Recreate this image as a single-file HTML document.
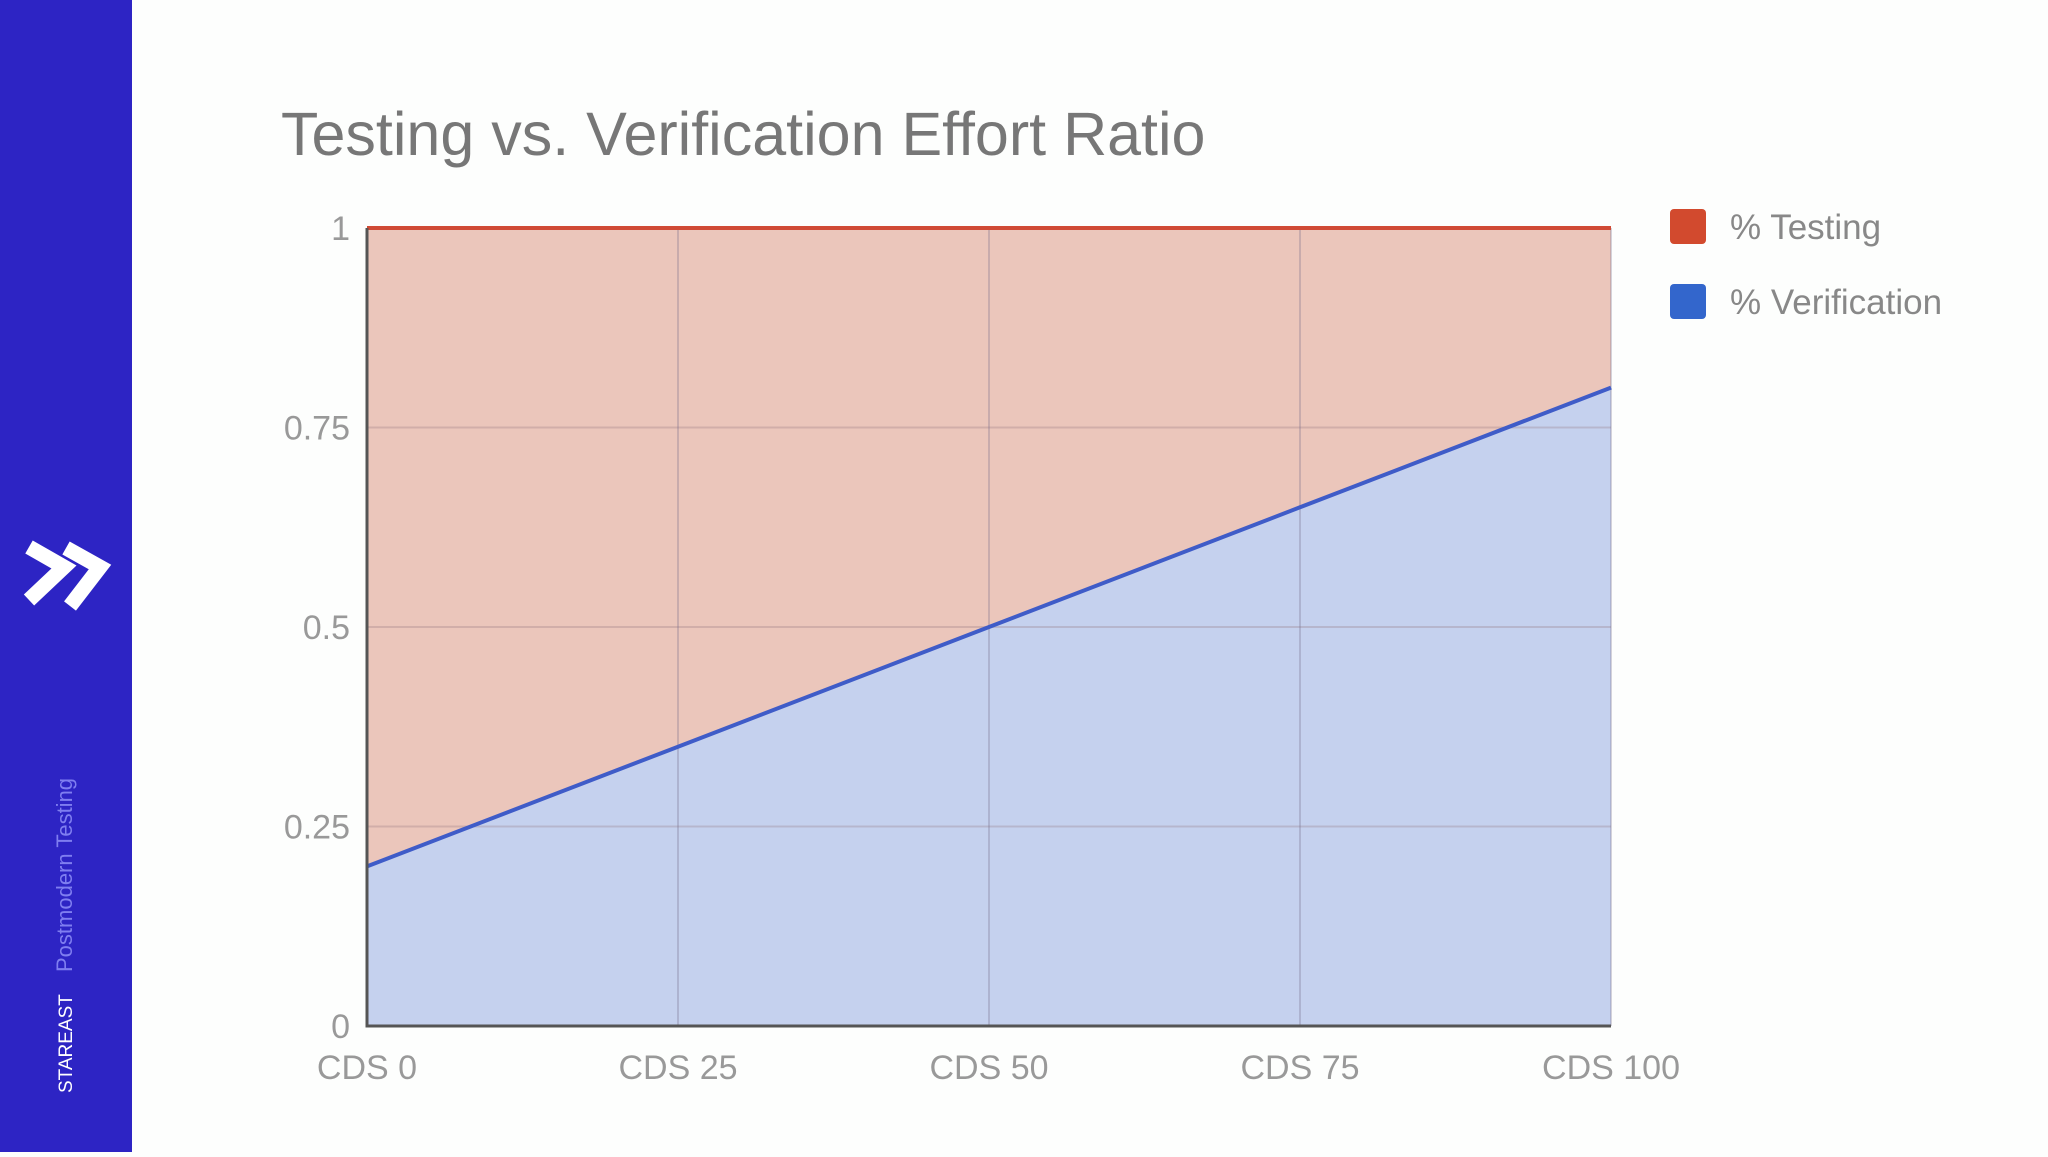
<!DOCTYPE html>
<html><head><meta charset="utf-8"><style>
html,body{margin:0;padding:0;width:2048px;height:1152px;background:#fdfefd;overflow:hidden;font-family:"Liberation Sans",sans-serif}
#side{position:absolute;left:0;top:0;width:132px;height:1152px;background:#2d24c4}
</style></head><body>
<div id="side">
<svg width="132" height="1152">
<g fill="none" stroke="#fff" stroke-width="15" stroke-linejoin="miter" stroke-miterlimit="10">
<polyline points="29,547 64,567 29,600"/>
<polyline points="66,548 100,567 70,606"/>
</g>
<text transform="translate(72,1093) rotate(-90)" font-size="19" fill="#fff">STAREAST</text>
<text transform="translate(72,972) rotate(-90)" font-size="22" fill="#7f7ef0">Postmodern Testing</text>
</svg></div>
<svg id="chart" width="2048" height="1152" style="position:absolute;left:0;top:0"></svg>
<script>
const categories=["CDS 0","CDS 25","CDS 50","CDS 75","CDS 100"];
const verification=[0.2,0.35,0.5,0.65,0.8];
const testing=[0.8,0.65,0.5,0.35,0.2];
const yTicks=[0,0.25,0.5,0.75,1];
const yTickLabels=["0","0.25","0.5","0.75","1"];
const NS="http://www.w3.org/2000/svg";
const svg=document.getElementById('chart');
const L=367,R=1611,T=228,B=1026;
const x=i=>L+(R-L)*i/(categories.length-1);
const y=v=>B-(B-T)*v;
function mk(tag,attrs,parent){const e=document.createElementNS(NS,tag);for(const k in attrs)e.setAttribute(k,attrs[k]);(parent||svg).appendChild(e);return e;}
const title=mk('text',{x:281,y:155,'font-size':61,fill:'#777'});
title.textContent='Testing vs. Verification Effort Ratio';


const topPts=categories.map((c,i)=>x(i)+','+y(verification[i]+testing[i])).join(' ');
const vPts=categories.map((c,i)=>x(i)+','+y(verification[i])).join(' ');
const midPts=categories.map((c,i)=>x(i)+','+y(verification[i])).reverse().join(' ');
const ta=mk('polygon',{points:topPts+' '+midPts,fill:'#ebc6bb'});


const basePts=categories.map((c,i)=>x(i)+','+y(0)).reverse().join(' ');
const va=mk('polygon',{points:vPts+' '+basePts,fill:'#c5d1ee'});


yTicks.forEach((t,i)=>{
 const g=mk('line',{x1:L,x2:R,y1:y(t),y2:y(t),stroke:'rgba(150,120,130,0.3)','stroke-width':2});
 
 
 const tl=mk('text',{x:350,y:y(t)+12,'font-size':34,fill:'#999','text-anchor':'end'});
 tl.textContent=yTickLabels[i];
 
 
});
categories.forEach((c,i)=>{
 const g=mk('line',{x1:x(i),x2:x(i),y1:T,y2:B,stroke:'rgba(120,110,140,0.3)','stroke-width':2});
 
 
 const tl=mk('text',{x:x(i),y:1079,'font-size':34,fill:'#999','text-anchor':'middle'});
 tl.textContent=c;
 
 
});
const tline=mk('polyline',{points:topPts,fill:'none',stroke:'#d04a35','stroke-width':4});


const vline=mk('polyline',{points:vPts,fill:'none',stroke:'#3f5cc8','stroke-width':4});


const ax=mk('polyline',{points:`${L},${T} ${L},${B} ${R},${B}`,fill:'none',stroke:'#555','stroke-width':3});


[["% Testing","#d24a2e",209],["% Verification","#3366cc",284]].forEach(([lab,col,yy])=>{
 const r=mk('rect',{x:1670,y:yy,width:36,height:35,rx:4,fill:col});
 
 
 const t=mk('text',{x:1730,y:yy+30,'font-size':35,fill:'#888'});
 t.textContent=lab;
 
 
});
</script>
</body></html>
